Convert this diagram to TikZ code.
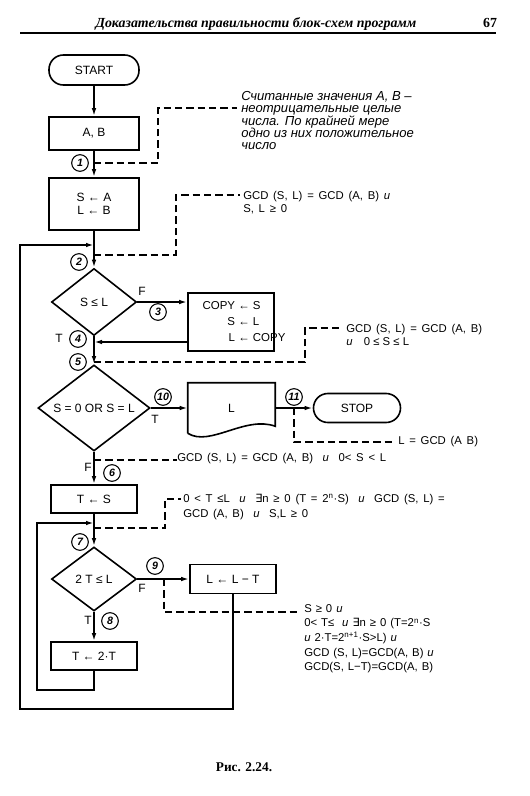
\documentclass[tikz,border=0pt]{standalone}
\usepackage{fontspec}
\setmainfont{Liberation Serif}
\setsansfont{Liberation Sans}
\newfontfamily\dia{Liberation Sans}
\newfontfamily\djsym{DejaVu Sans}
\usetikzlibrary{shapes.geometric,arrows.meta,calc}
\newcommand\wsp{\spaceskip=0.42em\relax}
\newcommand\wspn{\spaceskip=0.35em\relax}
\begin{document}
\begin{tikzpicture}[x=0.75pt,y=-0.75pt,
  flow/.style={line width=1.3pt},
  arr/.style={flow,-{Latex[length=6pt,width=3.4pt]}},
  annline/.style={line width=0.85pt,dash pattern=on 5.5pt off 3pt},
  box/.style={draw,line width=1.2pt,inner sep=0pt,font=\dia\fontsize{9}{10}\selectfont,align=center},
  term/.style={box,rounded corners=10.8pt},
  dec/.style={box,diamond,aspect=1.3},
  num/.style={circle,draw,line width=0.8pt,minimum size=12.5pt,inner sep=0pt,font=\dia\fontsize{8}{8}\selectfont\itshape\bfseries},
  lab/.style={inner sep=0pt,font=\dia\fontsize{9}{10}\selectfont},
  ann/.style={inner sep=0pt,align=left,font=\dia\fontsize{8.5}{10}\selectfont},
]
\useasboundingbox (0,0) rectangle (530,796);

% header
\node[inner sep=0pt,anchor=base,font=\fontsize{10.4}{13}\selectfont\bfseries\itshape] (hdr) at (256,27) {Доказательства правильности блок-схем программ};
\node[inner sep=0pt,anchor=base,font=\fontsize{10.4}{13}\selectfont\bfseries] (pg) at (490,27) {67};
\coordinate (rl) at (20,33);
\coordinate (rr) at (496,33);
\draw[line width=1.1pt] (rl) -- (rr);

% nodes
\node[term,minimum width=67.5pt,minimum height=22.5pt] (start) at (94,70) {START};
\node[box,minimum width=67.5pt,minimum height=24.75pt] (ab) at (94,133.5) {A, B};
\node[box,minimum width=67.5pt,minimum height=39pt,font=\dia\fontsize{9}{9.9}\selectfont] (init) at (94,204) {S ← A\\L ← B};
\node[dec,minimum width=63.75pt,minimum height=50.25pt] (d1) at (94,302) {S ≤ L};
\node[box,minimum width=64.5pt,minimum height=43.5pt] (copy) at (231,322) {};
\node[inner sep=0pt,font=\dia\fontsize{8.6}{12}\selectfont] (copytxt) at (244,322)
  {\begin{tabular}{@{}r@{ ← }l@{}}COPY & S\\ S & L\\ L & COPY\end{tabular}};
\node[dec,minimum width=84pt,minimum height=64.5pt] (d2) at (94,408) {S = 0 OR S = L};
\node[inner sep=0pt,minimum width=65.25pt,minimum height=37.5pt,font=\dia\fontsize{9}{10}\selectfont] (doc) at (231.5,408) {L\\[6pt]};
\draw[line width=1.2pt] (doc.south west) -- (doc.north west) -- (doc.north east) -- ($(doc.south east)+(0,-7)$)
   .. controls ($(doc.south east)+(-30,-18)$) and ($(doc.south west)+(22,14)$) .. (doc.south west);
\node[term,minimum width=65.25pt,minimum height=21.75pt] (stop) at (357,408) {STOP};
\node[box,minimum width=64.5pt,minimum height=21pt] (ts) at (94,499) {T ← S};
\node[dec,minimum width=63.75pt,minimum height=48pt] (d3) at (94,579) {2 T ≤ L};
\node[box,minimum width=64.5pt,minimum height=21.75pt] (llt) at (233,579) {L ← L − T};
\node[box,minimum width=64.5pt,minimum height=21pt] (t2t) at (94,656) {T ← 2·T};

% numbered points
\node[num] (c1) at (80,163) {1};
\node[num] (c2) at (79,262) {2};
\node[num] (c3) at (158,312) {3};
\node[num] (c4) at (78,339) {4};
\node[num] (c5) at (78,362) {5};
\node[num] (c10) at (163,397) {10};
\node[num] (c11) at (294,397) {11};
\node[num] (c6) at (112,473) {6};
\node[num] (c7) at (80,542) {7};
\node[num] (c9) at (155,566) {9};
\node[num] (c8) at (110,621) {8};

% branch labels
\node[lab] (f1) at (142,291) {F};
\node[lab] (t1) at (59,338) {T};
\node[lab] (t2) at (155,419) {T};
\node[lab] (f2) at (88,467) {F};
\node[lab] (f3) at (142,588) {F};
\node[lab] (t3) at (88,620) {T};

% connectors
\draw[arr] (start) -- (ab);
\draw[arr] (ab) -- (init);
\draw[arr] (init) -- (d1);
\draw[arr] (d1.east) -- (d1.east -| copy.west);
\coordinate (j4) at (94,342);
\draw[arr] (j4 -| copy.west) -- (j4);
\draw[arr] (d1) -- (d2);
\draw[arr] (d2) -- (doc);
\draw[arr] (doc) -- (stop);
\draw[arr] (d2) -- (ts);
\draw[arr] (ts) -- (d3);
\draw[arr] (d3) -- (llt);
\draw[arr] (d3) -- (t2t);
\coordinate (ol) at (20,709);
\coordinate (j2) at (94,245);
\draw[arr] (llt.south) |- (ol) |- (j2);
\coordinate (il) at (37,690);
\coordinate (j7) at (94,523);
\draw[arr] (t2t.south) |- (il) |- (j7);

% annotations
\node[inner sep=0pt,anchor=north west,align=left,font=\dia\fontsize{9.8}{9.3}\selectfont\itshape] (annA) at (241,91)
  {Считанные значения A, B –\\неотрицательные целые\\числа. По крайней мере\\одно из них положительное\\число};
\coordinate (a0) at (94,163);
\coordinate (ak) at (158,108);
\coordinate (ae) at (237,108);
\draw[annline] (a0) -| (ak) -- (ae);

\node[ann,anchor=north west,font=\dia\fontsize{8.5}{9.75}\selectfont] (annB) at (243,191)
  {\wsp GCD (S, L) = GCD (A, B) \textit{и}\\\wsp S, L ≥ 0};
\coordinate (b0) at (94,255);
\coordinate (bk) at (176,195);
\coordinate (be) at (240,195);
\draw[annline] (b0) -| (bk) -- (be);

\node[ann,anchor=north west,font=\dia\fontsize{8.5}{9.5}\selectfont] (annC) at (346,324)
  {\wsp GCD (S, L) = GCD (A, B)\\\textit{и}\quad 0 ≤ S ≤ L};
\coordinate (c0) at (94,362);
\coordinate (ck) at (305,328);
\coordinate (ce) at (339,328);
\draw[annline] (c0) -| (ck) -- (ce);

\node[ann,anchor=west] (annD) at (398,442) {\wsp L = GCD (A B)};
\coordinate (d0) at (294,408);
\coordinate (de) at (395,442);
\draw[annline] (d0) |- (de);

\node[ann,anchor=west] (annE) at (177,459) {\wsp GCD (S, L) = GCD (A, B)\ \ \textit{и}\ \ 0< S < L};
\coordinate (e0) at (94,460);
\draw[annline] (e0) -- (annE.west |- e0);

\node[ann,anchor=north west,font=\dia\fontsize{8.5}{11.25}\selectfont] (annF) at (183,494)
  {\wsp 0 < T ≤L\ \ \textit{и}\ \ {\djsym ∃}n ≥ 0 (T = 2\textsuperscript{n}·S)\ \ \textit{и}\ \ GCD (S, L) =\\\wsp GCD (A, B)\ \ \textit{и}\ \ S,L ≥ 0};
\coordinate (f0) at (94,528);
\coordinate (fk) at (165,499);
\coordinate (fe) at (181,499);
\draw[annline] (f0) -| (fk) -- (fe);

\node[ann,anchor=north west,font=\dia\fontsize{8.5}{11}\selectfont] (annG) at (304,604)
  {\wspn S ≥ 0 \textit{и}\\\wspn 0< T≤\ \ \textit{и} {\djsym ∃}n ≥ 0 (T=2\textsuperscript{n}·S\\\wspn\textit{и} 2·T=2\textsuperscript{n+1}·S>L) \textit{и}\\\wspn GCD (S, L)=GCD(A, B) \textit{и}\\\wspn GCD(S, L−T)=GCD(A, B)};
\coordinate (g0) at (164,579);
\coordinate (ge) at (299,612);
\draw[annline] (g0) |- (ge);

% caption
\node[inner sep=0pt,font=\fontsize{10}{12}\selectfont\bfseries] (cap) at (244,767) {Рис. 2.24.};
\end{tikzpicture}
\end{document}
